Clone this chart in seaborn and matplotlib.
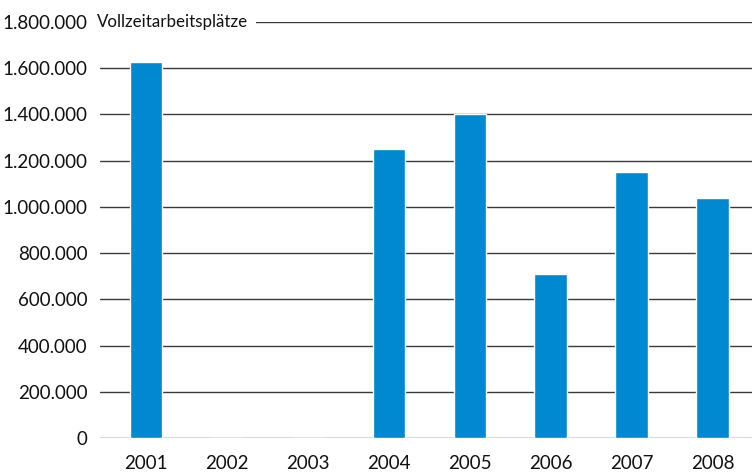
import numpy as np
import pandas as pd
import matplotlib
matplotlib.use("Agg")
import matplotlib.pyplot as plt
from matplotlib.ticker import FuncFormatter
import seaborn as sns

years = ["2001", "2002", "2003", "2004", "2005", "2006", "2007", "2008"]
jobs = [1625000, 0, 0, 1250000, 1400000, 710000, 1150000, 1040000]
yticks = [0, 200000, 400000, 600000, 800000, 1000000, 1200000, 1400000, 1600000, 1800000]
unit_label = "Vollzeitarbeitsplätze"

sns.set_style("white")
plt.rcParams['font.family'] = ['Lato', 'DejaVu Sans']

df = pd.DataFrame({"Jahr": years, "Wert": jobs})

fig = plt.figure(figsize=(7.52, 4.72), dpi=100)
ax = fig.add_axes([100 / 752, 34 / 472, 1 - 100 / 752, (438 - 22) / 472])

sns.barplot(data=df, x="Jahr", y="Wert", order=years, color="#0088d1",
            saturation=1, width=0.4, ax=ax, zorder=3)

ax.set_ylim(0, 1800000)
ax.set_xlim(-0.57, 7.49)
ax.set_yticks(yticks)
ax.yaxis.set_major_formatter(FuncFormatter(lambda v, p: f"{int(v):,}".replace(",", ".")))
for v in yticks:
    ax.axhline(v, color="#3a3a3a", lw=1, zorder=1)

ax.set_xlabel("")
ax.set_ylabel("")
sns.despine(ax=ax, left=True, bottom=True, top=True, right=True)
ax.tick_params(axis="y", length=0, pad=9, labelsize=13.5, labelcolor="#111111")
ax.tick_params(axis="x", length=0, pad=12, labelsize=13.5, labelcolor="#111111")

ax.text(-0.61, 1800000, unit_label, fontsize=12.2, color="#111111", va="center", ha="left",
        zorder=4, bbox=dict(facecolor="white", edgecolor="none", pad=6))

fig.savefig("out.png", dpi=100)
